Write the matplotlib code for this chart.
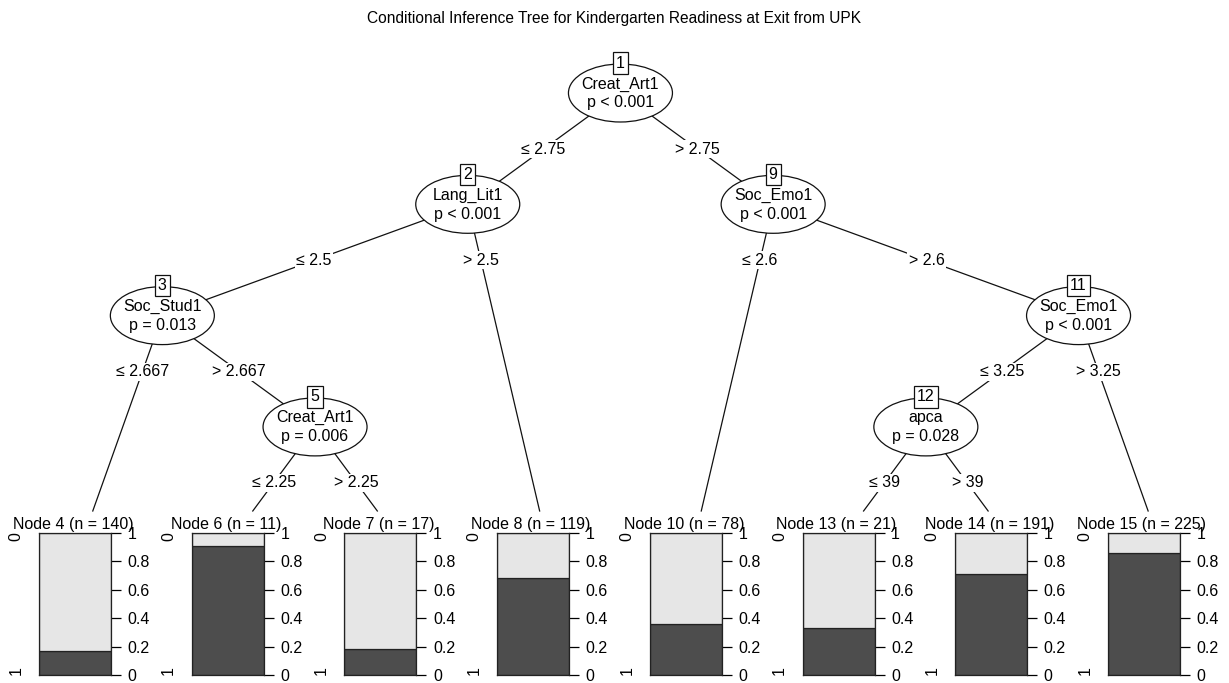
import matplotlib
matplotlib.use("Agg")
import matplotlib.pyplot as plt
from matplotlib.patches import Ellipse

plt.rcParams['font.family'] = ['Liberation Sans', 'DejaVu Sans']

TITLE = "Conditional Inference Tree for Kindergarten Readiness at Exit from UPK"

# inner (split) nodes
inner_ids = [1, 2, 3, 5, 9, 11, 12]
inner_vars = ['Creat_Art1', 'Lang_Lit1', 'Soc_Stud1', 'Creat_Art1', 'Soc_Emo1', 'Soc_Emo1', 'apca']
inner_pvals = ['p < 0.001', 'p < 0.001', 'p = 0.013', 'p = 0.006', 'p < 0.001', 'p < 0.001', 'p = 0.028']
split_points = ['2.75', '2.5', '2.667', '2.25', '2.6', '3.25', '39']
left_kids = [2, 3, 4, 6, 10, 12, 13]
right_kids = [9, 8, 5, 7, 11, 15, 14]

# terminal nodes (share of class 1)
term_ids = [4, 6, 7, 8, 10, 13, 14, 15]
term_n = [140, 11, 17, 119, 78, 21, 191, 225]
term_prop1 = [0.17, 0.91, 0.18, 0.68, 0.36, 0.33, 0.71, 0.86]

# layout in pixels
W, H = 1229, 683
T0, DX = 86, 152.7
Y0, DY = 93, 111.3
EDGE_TARGET = 530
LINE_END = 511
BOX_TOP, BOX_BOT = 533, 675
BOX_W = 72
ELL_W, ELL_H = 104, 58
FS = 11.5

LIGHT = '#e6e6e6'
DARK = '#4d4d4d'

kids = {n: (l, r) for n, l, r in zip(inner_ids, left_kids, right_kids)}
pos = {}


def layout(node, depth, start):
    """Place terminals evenly; inner node sits after its left subtree"""
    if node in term_ids:
        pos[node] = (T0 + start * DX, EDGE_TARGET)
        return 1
    left, right = kids[node]
    nl = layout(left, depth + 1, start)
    nr = layout(right, depth + 1, start + nl)
    pos[node] = (T0 + (start + nl - 0.5) * DX, Y0 + depth * DY)
    return nl + nr


layout(1, 0, 0)

fig = plt.figure(figsize=(W / 100, H / 100), dpi=100)
ax = fig.add_axes([0, 0, 1, 1])
ax.set_xlim(0, W)
ax.set_ylim(H, 0)
ax.axis('off')

ax.text(614, 18, TITLE, ha='center', va='center', fontsize=11.2)

# edges with split labels
for node, sp in zip(inner_ids, split_points):
    x1, y1 = pos[node]
    for child, sign in zip(kids[node], ['\u2264 ', '> ']):
        x2, y2 = pos[child]
        if child in term_ids:
            xe = x1 + (x2 - x1) * (LINE_END - y1) / (y2 - y1)
            ye = LINE_END
        else:
            xe, ye = x2, y2
        ax.plot([x1, xe], [y1, ye], color='#111111', lw=0.9, zorder=1)
        yl = y1 + 56
        xl = x1 + (x2 - x1) * (yl - y1) / (y2 - y1)
        ax.text(xl, yl, sign + sp, ha='center', va='center', fontsize=FS, zorder=3,
                bbox=dict(boxstyle='square,pad=0.1', fc='white', ec='none'))

# inner nodes
for node, var, pv in zip(inner_ids, inner_vars, inner_pvals):
    x, y = pos[node]
    ax.add_patch(Ellipse((x, y), ELL_W, ELL_H, fc='white', ec='#111111', lw=0.9, zorder=2))
    ax.text(x, y - 9, var, ha='center', va='center', fontsize=FS, zorder=3)
    ax.text(x, y + 10, pv, ha='center', va='center', fontsize=FS, zorder=3)
    ax.text(x, y - ELL_H / 2 - 1, str(node), ha='center', va='center', fontsize=FS, zorder=4,
            bbox=dict(boxstyle='square,pad=0.2', fc='white', ec='#111111', lw=0.9))

# terminal bar panels
for node, n, p1 in zip(term_ids, term_n, term_prop1):
    xc = pos[node][0]
    bl = xc - 47
    ax.text(bl + BOX_W / 2 - 2, 524, f'Node {node} (n = {n})', ha='center', va='center',
            fontsize=FS, zorder=3)
    ax.text(bl - 23, BOX_TOP + 4, '0', ha='center', va='center', rotation=90, fontsize=FS)
    ax.text(bl - 23, BOX_BOT - 4, '1', ha='center', va='center', rotation=90, fontsize=FS)
    bax = fig.add_axes([bl / W, (H - BOX_BOT) / H, BOX_W / W, (BOX_BOT - BOX_TOP) / H])
    bax.bar(0.5, p1, width=1, color=DARK, edgecolor='#222222', lw=0.9)
    bax.bar(0.5, 1 - p1, bottom=p1, width=1, color=LIGHT, edgecolor='#222222', lw=0.9)
    bax.set_xlim(0, 1)
    bax.set_ylim(0, 1)
    bax.set_xticks([])
    bax.yaxis.tick_right()
    bax.set_yticks([0, 0.2, 0.4, 0.6, 0.8, 1])
    bax.set_yticklabels(['0', '0.2', '0.4', '0.6', '0.8', '1'], fontsize=FS)
    bax.tick_params(axis='y', length=7, width=0.9, pad=5)
    for s in bax.spines.values():
        s.set_linewidth(0.9)
        s.set_color('#222222')

fig.savefig('out.png', dpi=100)
